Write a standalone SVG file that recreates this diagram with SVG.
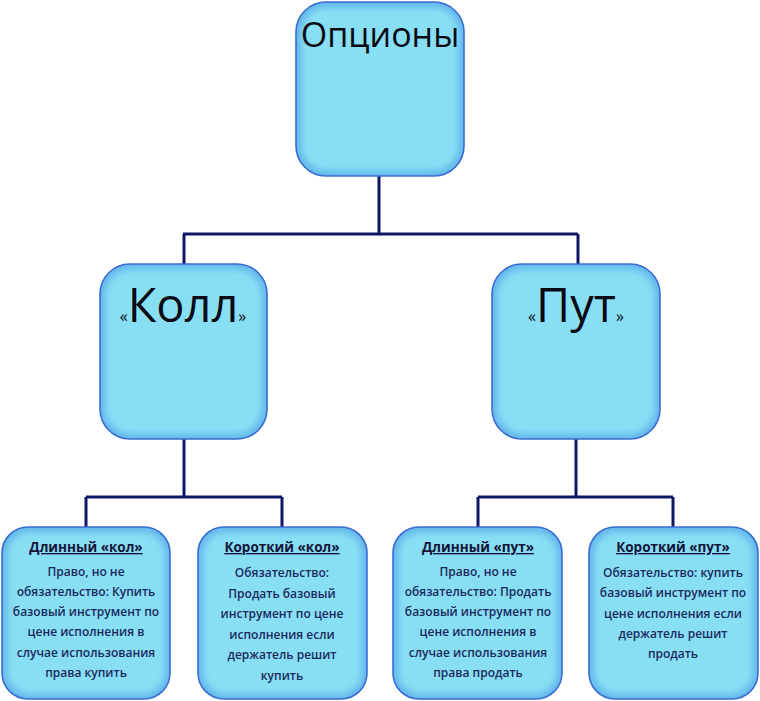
<svg xmlns="http://www.w3.org/2000/svg" width="760" height="701" viewBox="0 0 760 701">
<defs>
<filter id="glow" x="-10%" y="-10%" width="120%" height="120%">
<feGaussianBlur stdDeviation="3.5"/>
</filter>
</defs>
<style>
.edge{fill:#62b6ec}
.core{fill:#88dff4;filter:url(#glow)}
.rim{fill:none;stroke:#3b6bd0;stroke-width:1.6}
.conn{fill:none;stroke:#0e1763;stroke-width:3}
.big{font-family:"Open Sans","Noto Sans",sans-serif;fill:#0a0a14;text-anchor:middle}
.q{font-family:"Open Sans","Noto Sans",sans-serif;fill:#0a0a14;font-size:16px}
.t{font-family:"Open Sans","Noto Sans",sans-serif;font-weight:700;font-size:13.5px;fill:#14143a;text-anchor:middle;text-decoration:underline}
.b{font-family:"Open Sans","Noto Sans",sans-serif;font-weight:600;font-size:12px;fill:#1b2a5e;text-anchor:middle}
</style>
<rect width="760" height="701" fill="#ffffff"/>
<g id="connectors">
<path class="conn" d="M379 176V234M183 234H578M184 234V264M578 234V264"/>
<path class="conn" d="M184 439V497M86 497H282M86 497V527M282 497V527"/>
<path class="conn" d="M576 439V497M478 497H673M478 497V527M673 497V527"/>
</g>
<g id="node-options">
<rect class="edge" x="296" y="2" width="168" height="174" rx="30"/>
<rect class="core" x="301" y="7" width="158" height="164" rx="26"/>
<rect class="rim" x="296" y="2" width="168" height="174" rx="30"/>
<text class="big" x="380" y="47" font-size="34">Опционы</text>
</g>
<g id="node-call">
<rect class="edge" x="100" y="264" width="167" height="175" rx="30"/>
<rect class="core" x="105" y="269" width="157" height="165" rx="26"/>
<rect class="rim" x="100" y="264" width="167" height="175" rx="30"/>
<text x="183" y="322" text-anchor="middle"><tspan class="q">«</tspan><tspan class="big" font-size="47">Колл</tspan><tspan class="q">»</tspan></text>
</g>
<g id="node-put">
<rect class="edge" x="492" y="264" width="168" height="175" rx="30"/>
<rect class="core" x="497" y="269" width="158" height="165" rx="26"/>
<rect class="rim" x="492" y="264" width="168" height="175" rx="30"/>
<text x="576" y="322" text-anchor="middle"><tspan class="q">«</tspan><tspan class="big" font-size="47">Пут</tspan><tspan class="q">»</tspan></text>
</g>
<g id="node-long-call">
<rect class="edge" x="2" y="527" width="168" height="172" rx="26"/>
<rect class="core" x="7" y="532" width="158" height="162" rx="22"/>
<rect class="rim" x="2" y="527" width="168" height="172" rx="26"/>
<text class="t" x="86" y="552">Длинный «кол»</text>
<text class="b" x="86" y="576">Право, но не</text>
<text class="b" x="86" y="596">обязательство: Купить</text>
<text class="b" x="86" y="616">базовый инструмент по</text>
<text class="b" x="86" y="636">цене исполнения в</text>
<text class="b" x="86" y="657">случае использования</text>
<text class="b" x="86" y="677">права купить</text>
</g>
<g id="node-short-call">
<rect class="edge" x="198" y="527" width="169" height="172" rx="26"/>
<rect class="core" x="203" y="532" width="159" height="162" rx="22"/>
<rect class="rim" x="198" y="527" width="169" height="172" rx="26"/>
<text class="t" x="282" y="552">Короткий «кол»</text>
<text class="b" x="282" y="577">Обязательство:</text>
<text class="b" x="282" y="598">Продать базовый</text>
<text class="b" x="282" y="618">инструмент по цене</text>
<text class="b" x="282" y="639">исполнения если</text>
<text class="b" x="282" y="659">держатель решит</text>
<text class="b" x="282" y="680">купить</text>
</g>
<g id="node-long-put">
<rect class="edge" x="393" y="527" width="169" height="172" rx="26"/>
<rect class="core" x="398" y="532" width="159" height="162" rx="22"/>
<rect class="rim" x="393" y="527" width="169" height="172" rx="26"/>
<text class="t" x="478" y="552">Длинный «пут»</text>
<text class="b" x="478" y="576">Право, но не</text>
<text class="b" x="478" y="596">обязательство: Продать</text>
<text class="b" x="478" y="616">базовый инструмент по</text>
<text class="b" x="478" y="636">цене исполнения в</text>
<text class="b" x="478" y="657">случае использования</text>
<text class="b" x="478" y="677">права продать</text>
</g>
<g id="node-short-put">
<rect class="edge" x="589" y="527" width="169" height="172" rx="26"/>
<rect class="core" x="594" y="532" width="159" height="162" rx="22"/>
<rect class="rim" x="589" y="527" width="169" height="172" rx="26"/>
<text class="t" x="673" y="552">Короткий «пут»</text>
<text class="b" x="673" y="577">Обязательство: купить</text>
<text class="b" x="673" y="597">базовый инструмент по</text>
<text class="b" x="673" y="618">цене исполнения если</text>
<text class="b" x="673" y="638">держатель решит</text>
<text class="b" x="673" y="658">продать</text>
</g>
</svg>
